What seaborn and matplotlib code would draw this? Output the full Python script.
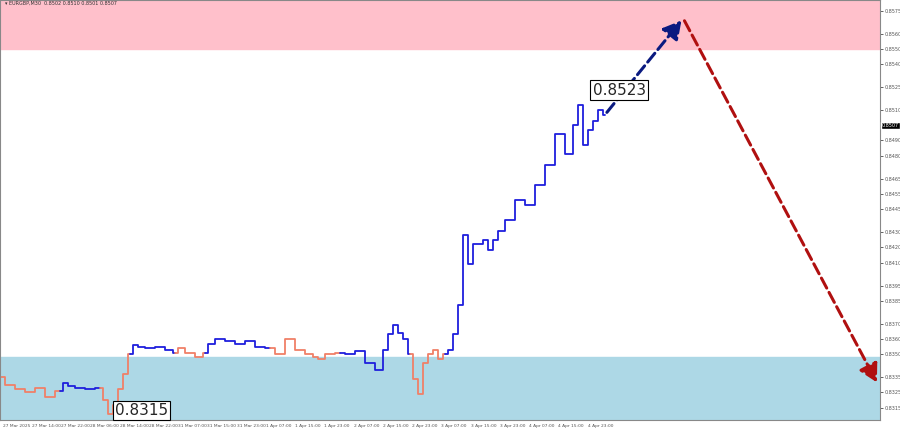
import matplotlib
matplotlib.use("Agg")
import matplotlib.pyplot as plt
import seaborn as sns
import pandas as pd
import numpy as np

sns.set_theme(style="white")
plt.rcParams['font.family'] = ['DejaVu Sans']

# price path (bar index, price)
bar_idx = [0,2,4,6,8,10,12,13,14,16,18,20,21,22,23,24,25,26,27,28,30,32,34,35,36,38,40,41,42,44,46,48,50,52,54,56,58,60,62,63,64,66,68,70,72,74,76,77,78,79,80,81,82,83,84,85,86,87,88,89,90,91,92,93,94,95,96,97,98,99,100,102,104,106,108,110,112,114,115,116,117,118,119,120,121]
price = [0.8335,0.8330,0.8327,0.8325,0.8328,0.8322,0.8326,0.8331,0.8329,0.8328,0.8327,0.8328,0.8320,0.8311,0.8317,0.8327,0.8337,0.8350,0.8356,0.8355,0.8354,0.8355,0.8353,0.8351,0.8354,0.8351,0.8348,0.8351,0.8357,0.8360,0.8359,0.8357,0.8359,0.8355,0.8354,0.8350,0.8360,0.8353,0.8350,0.8348,0.8347,0.8350,0.8351,0.8350,0.8352,0.8344,0.8340,0.8353,0.8363,0.8369,0.8364,0.8360,0.8350,0.8334,0.8324,0.8344,0.8350,0.8353,0.8347,0.8350,0.8353,0.8363,0.8382,0.8428,0.8409,0.8422,0.8422,0.8425,0.8418,0.8425,0.8431,0.8438,0.8451,0.8448,0.8461,0.8474,0.8494,0.8481,0.8500,0.8513,0.8487,0.8497,0.8503,0.8510,0.8507]
# wave colour runs, given as bar index where each run starts
seg_start = [0,12,20,26,35,41,54,68,82,89]
seg_wave = ["down","up","down","up","down","up","down","up","down","up"]

# forecast arrows
fc_x = [121,136.6,175.6]
fc_y = [0.8507,0.8570,0.8330]
y_ticks = [0.8575,0.8560,0.8550,0.8540,0.8525,0.8510,0.8490,0.8480,0.8465,0.8455,0.8445,0.8430,0.8420,0.8410,0.8395,0.8385,0.8370,0.8360,0.8350,0.8335,0.8325,0.8315]
x_labels = ["27 Mar 2025","27 Mar 14:00","27 Mar 22:00","28 Mar 06:00","28 Mar 14:00","28 Mar 22:00","31 Mar 07:00","31 Mar 15:00","31 Mar 23:00","1 Apr 07:00","1 Apr 15:00","1 Apr 23:00","2 Apr 07:00","2 Apr 15:00","2 Apr 23:00","3 Apr 07:00","3 Apr 15:00","3 Apr 23:00","4 Apr 07:00","4 Apr 15:00","4 Apr 23:00"]

df = pd.DataFrame({"x": bar_idx, "p": price})
colors = {"down": "#f08068", "up": "#1f1fdd"}

fig = plt.figure(figsize=(9, 4.32), dpi=100)
ax = fig.add_axes([0.0, 0.028, 0.978, 0.972])
ax.set_xlim(0, 176)
ax.set_ylim(0.8307, 0.8582)
ax.axhspan(0.8550, 0.8582, color="#ffc0cb", zorder=0)
ax.axhspan(0.8307, 0.8348, color="#add8e6", zorder=0)

bounds = seg_start + [max(bar_idx)]
for i, w in enumerate(seg_wave):
    sub = df[(df.x >= bounds[i]) & (df.x <= bounds[i + 1])]
    sns.lineplot(data=sub, x="x", y="p", ax=ax, color=colors[w], lw=1.3,
                 drawstyle="steps-mid", estimator=None, sort=False)

ax.annotate("", xy=(fc_x[1], fc_y[1]), xytext=(fc_x[0], fc_y[0]),
            arrowprops=dict(arrowstyle="-|>,head_width=0.5,head_length=0.9",
                            color="#0a1a80", lw=2.2, ls="--"))
ax.annotate("", xy=(fc_x[2], fc_y[2]), xytext=(fc_x[1], fc_y[1]),
            arrowprops=dict(arrowstyle="-|>,head_width=0.5,head_length=0.9",
                            color="#b01010", lw=2.2, ls="--"))

ax.text(118.5, 0.8523, "0.8523", fontsize=11, va="center", ha="left",
        bbox=dict(facecolor="white", edgecolor="black", pad=1.5, lw=0.8))
ax.text(23, 0.8313, "0.8315", fontsize=11, va="center", ha="left",
        bbox=dict(facecolor="white", edgecolor="black", pad=1.5, lw=0.8))
ax.text(1, 0.8579, "\u25be EURGBP,M30  0.8502 0.8510 0.8501 0.8507", fontsize=3.5, color="#333333")

ax.yaxis.tick_right()
ax.set_yticks(y_ticks)
ax.set_yticklabels([f"{v:.4f}" for v in y_ticks], fontsize=3.5, color="#555555")
ax.set_xticks(np.arange(len(x_labels)) * 5.85 + 0.5)
ax.set_xticklabels(x_labels, fontsize=3.2, color="#555555", ha="left")
ax.tick_params(length=2, width=0.5, pad=1)
ax.set_xlabel(""); ax.set_ylabel("")
for s in ax.spines.values():
    s.set_color("#888888"); s.set_linewidth(0.8)
ax.text(176.3, 0.8500, "0.8507", fontsize=3.5, color="white", va="center",
        bbox=dict(facecolor="black", pad=0.8), clip_on=False)
fig.savefig("out.png", dpi=100)
